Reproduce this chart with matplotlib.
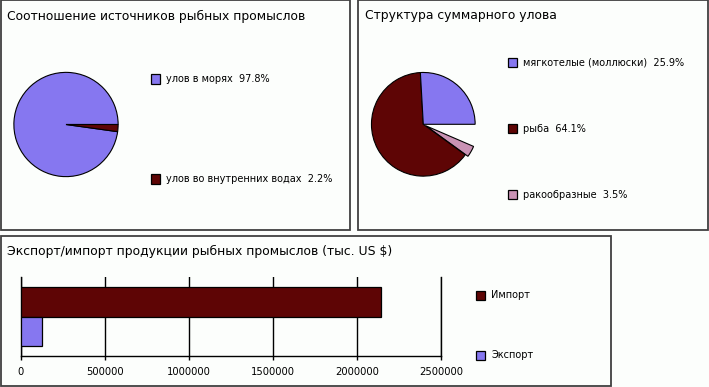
import matplotlib
matplotlib.use("Agg")
import matplotlib.pyplot as plt
from matplotlib.patches import Rectangle

plt.rcParams['font.family'] = ['DejaVu Sans']

W, H = 709, 387
BG = '#fcfefc'
BLUE = '#8677f0'
DARK = '#5e0505'
PINK = '#c992b4'

# Pie 1: sources of fishery catch (%)
src_labels = ['улов в морях', 'улов во внутренних водах']
src_values = [97.8, 2.2]
src_colors = [BLUE, DARK]

# Pie 2: structure of total catch (%)
catch_labels = ['мягкотелые (моллюски)', 'рыба', 'ракообразные']
catch_values = [25.9, 64.1, 3.5]
catch_colors = [BLUE, DARK, PINK]

# Bars: export / import (thousand US $)
trade_labels = ['Импорт', 'Экспорт']
trade_values = [2140000, 126000]
trade_colors = [DARK, BLUE]
trade_ticks = [0, 500000, 1000000, 1500000, 2000000, 2500000]

fig = plt.figure(figsize=(W / 100, H / 100), dpi=100, facecolor=BG)


def px_axes(x0, y0, w, h):
    return fig.add_axes([x0 / W, 1 - (y0 + h) / H, w / W, h / H])


def panel(x0, y0, x1, y1):
    fig.patches.append(Rectangle((x0 / W, 1 - y1 / H), (x1 - x0) / W, (y1 - y0) / H,
                                 transform=fig.transFigure, fill=False,
                                 edgecolor='#404040', linewidth=1.3))


def legend_entry(x, y, color, text):
    fig.patches.append(Rectangle(((x - 4.5) / W, 1 - (y + 4.5) / H), 9 / W, 9 / H,
                                 transform=fig.transFigure, facecolor=color,
                                 edgecolor='black', linewidth=0.9))
    fig.text((x + 10.5) / W, 1 - y / H, text, fontsize=7.0, va='center', ha='left')


def pie_axes(cx, cy, r, pad=1.2):
    ax = px_axes(cx - r * pad, cy - r * pad, 2 * r * pad, 2 * r * pad)
    ax.set_xlim(-pad, pad)
    ax.set_ylim(-pad, pad)
    ax.axis('off')
    return ax


panel(0.5, 0.5, 350, 230)
panel(358, 0.5, 708, 230)
panel(0.5, 236, 611, 386)

# --- panel 1
fig.text(7 / W, 1 - 16 / H, 'Соотношение источников рыбных промыслов', fontsize=8.9, va='center')
ax1 = pie_axes(66, 124.5, 54.3)
ax1.pie([v / 100 for v in src_values], colors=src_colors, startangle=0, counterclock=True,
        normalize=False, wedgeprops=dict(edgecolor='black', linewidth=0.8))
for i, (lab, val) in enumerate(zip(src_labels, src_values)):
    legend_entry(155, 79 + i * 100, src_colors[i], f'{lab}  {val}%')

# --- panel 2 (percentages do not sum to 100, rest left empty)
fig.text(365 / W, 1 - 16 / H, 'Структура суммарного улова', fontsize=8.9, va='center')
ax2 = pie_axes(423.3, 124.3, 54)
order = [2, 1, 0]
ax2.pie([catch_values[i] / 100 for i in order], colors=[catch_colors[i] for i in order],
        explode=[0.06, 0, 0], startangle=-23.4, counterclock=False, normalize=False,
        wedgeprops=dict(edgecolor='black', linewidth=0.8))
for i, (lab, val) in enumerate(zip(catch_labels, catch_values)):
    legend_entry(512.5, 62.5 + i * 66, catch_colors[i], f'{lab}  {val}%')

# --- panel 3
fig.text(7 / W, 1 - 251 / H, 'Экспорт/импорт продукции рыбных промыслов (тыс. US $)',
         fontsize=8.9, va='center')
ax3 = px_axes(21, 277, 420, 79)
ax3.set_facecolor('none')
ypos = [0.37, -0.37]
ax3.barh(ypos, trade_values, height=0.74, color=trade_colors, edgecolor='black',
         linewidth=0.9, zorder=3)
ax3.set_xlim(0, 2500000)
ax3.set_ylim(-1, 1)
ax3.set_xticks(trade_ticks)
ax3.set_xticklabels([str(t) for t in trade_ticks], fontsize=7.2)
ax3.set_yticks([])
ax3.grid(axis='x', color='black', linewidth=1)
ax3.spines['top'].set_visible(False)
for s in ['left', 'bottom', 'right']:
    ax3.spines[s].set_color('black')
    ax3.spines[s].set_linewidth(1)
ax3.tick_params(axis='x', length=3, width=1, pad=5, direction='out')
for i, lab in enumerate(trade_labels):
    legend_entry(481, 295 + i * 60, trade_colors[i], lab)

fig.savefig('out.png', dpi=100, facecolor=BG)
